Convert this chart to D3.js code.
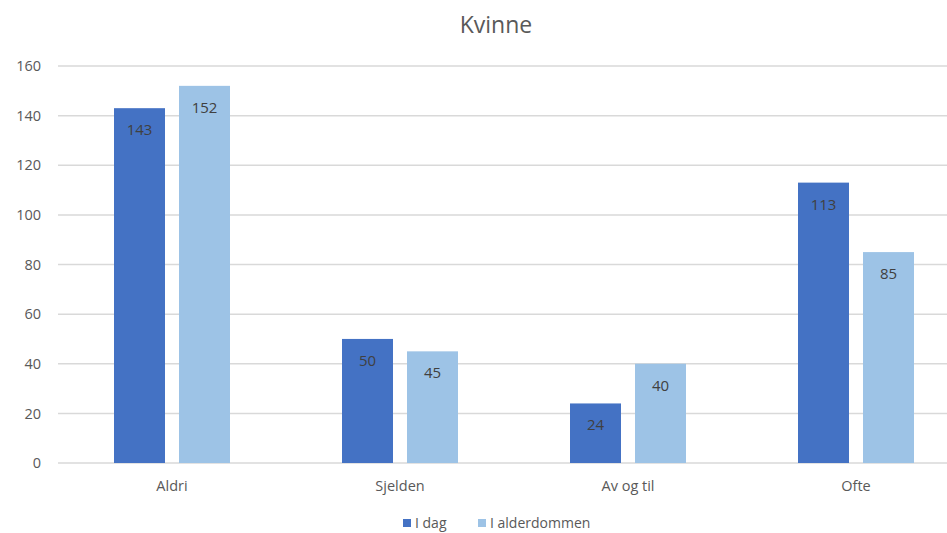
<!DOCTYPE html>
<html>
<head>
<meta charset="utf-8">
<script src="https://cdn.jsdelivr.net/npm/d3@7"></script>
<style>
  html, body { margin: 0; padding: 0; background: #fff; }
  svg { display: block; font-family: "Open Sans", "Liberation Sans", sans-serif; }
</style>
</head>
<body>
<svg id="chart" width="947" height="533"></svg>
<script>
const categories = ["Aldri", "Sjelden", "Av og til", "Ofte"];
const seriesNames = ["I dag", "I alderdommen"];
const iDag = [143, 50, 24, 113];
const iAlderdommen = [152, 45, 40, 85];
const yTicks = [0, 20, 40, 60, 80, 100, 120, 140, 160];
const colors = ["#4472C4", "#9DC3E6"];

const series = [iDag, iAlderdommen];
const svg = d3.select("#chart");

const x = d3.scaleBand().domain(categories).range([58, 970]).paddingInner(0).paddingOuter(0);
const xInner = d3.scaleBand().domain(seriesNames).range([56, 172]).paddingInner(14 / 65).paddingOuter(0);
const y = d3.scaleLinear().domain([0, 160]).range([463, 66]);

// gridlines
svg.append("g")
  .selectAll("line")
  .data(yTicks)
  .join("line")
  .attr("x1", 58).attr("x2", 947)
  .attr("y1", d => y(d)).attr("y2", d => y(d))
  .attr("stroke", "#d9d9d9").attr("stroke-width", 1.5);

// y axis labels
const yAxis = d3.axisLeft(y).tickValues(yTicks).tickSize(0).tickPadding(0);
const yg = svg.append("g").attr("transform", "translate(41,0)").call(yAxis);
yg.select(".domain").remove();
yg.selectAll("text").attr("fill", "#595959").style("font-size", "14.5px")
  .style("font-family", "'Open Sans', 'Liberation Sans', sans-serif");

// bars
const groups = svg.append("g").selectAll("g")
  .data(categories)
  .join("g")
  .attr("transform", d => `translate(${x(d)},0)`);

groups.each(function(cat, ci) {
  const g = d3.select(this);
  seriesNames.forEach((s, si) => {
    const v = series[si][ci];
    g.append("rect")
      .attr("x", xInner(s))
      .attr("y", y(v))
      .attr("width", xInner.bandwidth())
      .attr("height", y(0) - y(v))
      .attr("fill", colors[si]);
    g.append("text")
      .attr("x", xInner(s) + xInner.bandwidth() / 2)
      .attr("y", y(v) + 27)
      .attr("text-anchor", "middle")
      .attr("fill", "#404040")
      .style("font-size", "15px")
      .text(v);
  });
});

// x axis labels
const xAxis = d3.axisBottom(x).tickSize(0).tickPadding(0);
const xg = svg.append("g").attr("transform", "translate(0,481)").call(xAxis);
xg.select(".domain").remove();
xg.selectAll("text").attr("fill", "#595959").style("font-size", "14.5px")
  .style("font-family", "'Open Sans', 'Liberation Sans', sans-serif");

// title
svg.append("text")
  .attr("x", 496).attr("y", 33)
  .attr("text-anchor", "middle")
  .attr("fill", "#595959")
  .style("font-size", "23px")
  .text("Kvinne");

// legend
const legendX = [403, 478];
const legend = svg.append("g").selectAll("g")
  .data(seriesNames)
  .join("g")
  .attr("transform", (d, i) => `translate(${legendX[i]},519)`);
legend.append("rect").attr("width", 8).attr("height", 8).attr("fill", (d, i) => colors[i]);
legend.append("text").attr("x", 12).attr("y", 8.5)
  .attr("fill", "#595959").style("font-size", "14px").text(d => d);
</script>
</body>
</html>
